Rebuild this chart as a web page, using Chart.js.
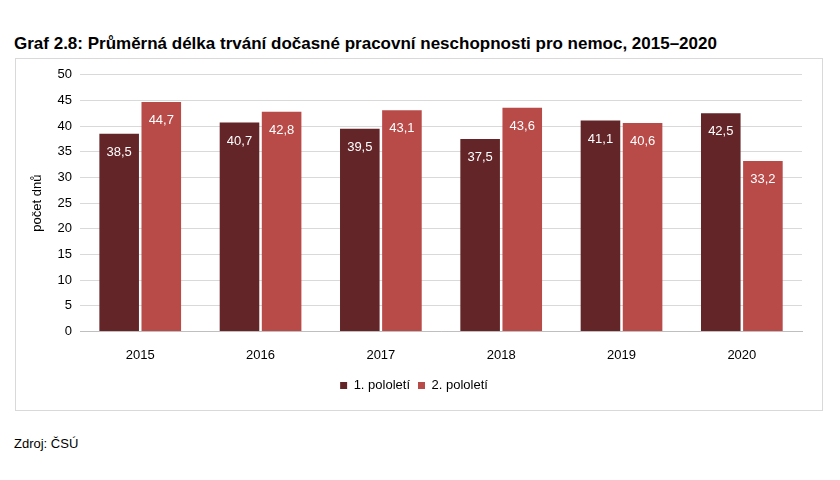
<!DOCTYPE html>
<html><head><meta charset="utf-8">
<script src="https://cdn.jsdelivr.net/npm/chart.js@4"></script>
<style>
body{margin:0;background:#fff;font-family:"Liberation Sans",Arial,sans-serif;width:840px;height:480px;position:relative}
#t{position:absolute;left:14px;top:34px;font-size:17px;font-weight:bold;color:#000}
#box{position:absolute;left:15px;top:58px;width:806px;height:351px;border:1px solid #d9d9d9}
#src{position:absolute;left:14px;top:436px;font-size:13px;color:#000}
</style></head><body>
<div id="t">Graf 2.8: Průměrná délka trvání dočasné pracovní neschopnosti pro nemoc, 2015–2020</div>
<div id="box"><canvas id="c" width="806" height="351"></canvas></div>
<div id="src">Zdroj: ČSÚ</div>
<script>
const categories=["2015","2016","2017","2018","2019","2020"];
const firstHalf=[38.5,40.7,39.5,37.5,41.1,42.5];
const secondHalf=[44.7,42.8,43.1,43.6,40.6,33.2];
const seriesNames=["1. pololetí","2. pololetí"];
const labelPlugin={id:'lbl',afterDatasetsDraw(ch){const ctx=ch.ctx;ctx.save();ctx.fillStyle='#fff';ctx.font='13px "Liberation Sans",Arial';ctx.textAlign='center';ctx.textBaseline='top';
ch.data.datasets.forEach((ds,i)=>{ch.getDatasetMeta(i).data.forEach((b,j)=>{ctx.fillText(ds.data[j].toFixed(1).replace('.',','),b.x,b.y+12);});});ctx.restore();}};
new Chart(document.getElementById('c'),{type:'bar',
data:{labels:categories,datasets:[
{label:seriesNames[0],data:firstHalf,backgroundColor:'#632527'},
{label:seriesNames[1],data:secondHalf,backgroundColor:'#b84a48'}]},
options:{responsive:false,animation:false,
layout:{padding:{left:10,right:20,top:10,bottom:8}},
datasets:{bar:{categoryPercentage:0.7,barPercentage:0.94}},
plugins:{legend:{position:'bottom',labels:{boxWidth:7,boxHeight:7,color:'#000',font:{size:13,family:'"Liberation Sans",Arial'},padding:8}},tooltip:{enabled:false}},
scales:{x:{grid:{display:false},border:{color:'#bfbfbf'},ticks:{color:'#000',font:{size:13},padding:8}},
y:{min:0,max:50,ticks:{stepSize:5,color:'#000',font:{size:13},padding:8},grid:{color:'#d9d9d9',drawTicks:false},border:{display:false},
title:{display:true,text:'počet dnů',color:'#000',font:{size:13}}}}},
plugins:[labelPlugin]});
</script></body></html>
